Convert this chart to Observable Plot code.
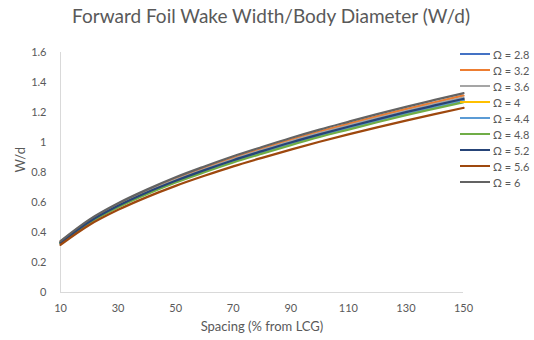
<!DOCTYPE html>
<html>
<head>
<meta charset="utf-8">
<script src="https://cdn.jsdelivr.net/npm/d3@7"></script>
<script src="https://cdn.jsdelivr.net/npm/@observablehq/plot@0.6"></script>
<style>
  body { margin: 0; background: #fff; font-family: Lato, "Open Sans", sans-serif; }
  #wrap { position: relative; width: 534px; height: 340px; overflow: hidden; }
  #title { position: absolute; left: 0; top: 4px; width: 542px; text-align: center; font-size: 19px; color: #595959; }
  #chart { position: absolute; left: 0; top: 30px; }
  #legend { position: absolute; left: 460px; top: 46px; font-size: 11px; color: #595959; }
  .item { height: 16px; display: flex; align-items: center; }
  .sw { width: 30px; height: 2.5px; margin-right: 3px; }
</style>
</head>
<body>
<div id="wrap">
  <div id="title">Forward Foil Wake Width/Body Diameter (W/d)</div>
  <div id="chart"></div>
  <div id="legend"></div>
</div>
<script>
const spacing = [10, 20, 30, 40, 50, 60, 70, 80, 90, 100, 110, 120, 130, 140, 150];
const seriesNames = ["Ω = 2.8", "Ω = 3.2", "Ω = 3.6", "Ω = 4", "Ω = 4.4", "Ω = 4.8", "Ω = 5.2", "Ω = 5.6", "Ω = 6"];
const colors = ["#4472C4", "#ED7D31", "#A5A5A5", "#FFC000", "#5B9BD5", "#70AD47", "#264478", "#9E480E", "#636363"];
const w28 = [0.332, 0.469, 0.575, 0.663, 0.742, 0.812, 0.877, 0.937, 0.995, 1.049, 1.100, 1.149, 1.196, 1.241, 1.285];
const w32 = [0.339, 0.480, 0.587, 0.678, 0.758, 0.830, 0.897, 0.958, 1.017, 1.072, 1.124, 1.174, 1.222, 1.268, 1.313];
const w36 = [0.336, 0.475, 0.582, 0.671, 0.751, 0.822, 0.888, 0.949, 1.007, 1.062, 1.113, 1.162, 1.210, 1.256, 1.300];
const w40 = [0.332, 0.469, 0.575, 0.663, 0.742, 0.812, 0.877, 0.937, 0.995, 1.049, 1.100, 1.149, 1.196, 1.241, 1.285];
const w44 = [0.330, 0.467, 0.572, 0.660, 0.738, 0.808, 0.873, 0.933, 0.990, 1.044, 1.094, 1.143, 1.190, 1.235, 1.278];
const w48 = [0.328, 0.464, 0.568, 0.655, 0.733, 0.802, 0.867, 0.926, 0.983, 1.037, 1.086, 1.135, 1.182, 1.226, 1.269];
const w52 = [0.333, 0.472, 0.578, 0.667, 0.745, 0.816, 0.882, 0.942, 1.000, 1.054, 1.105, 1.154, 1.202, 1.247, 1.291];
const w56 = [0.318, 0.450, 0.551, 0.636, 0.711, 0.778, 0.841, 0.898, 0.953, 1.005, 1.054, 1.101, 1.146, 1.189, 1.231];
const w60 = [0.343, 0.486, 0.595, 0.686, 0.768, 0.840, 0.908, 0.970, 1.030, 1.086, 1.138, 1.189, 1.238, 1.284, 1.329];
const allSeries = [w28, w32, w36, w40, w44, w48, w52, w56, w60];
const xTicks = [10, 30, 50, 70, 90, 110, 130, 150];
const yTicks = [0, 0.2, 0.4, 0.6, 0.8, 1, 1.2, 1.4, 1.6];

const rows = [];
allSeries.forEach((vals, i) => vals.forEach((v, j) => rows.push({s: seriesNames[i], x: spacing[j], y: v})));

const plot = Plot.plot({
  width: 534,
  height: 310,
  marginLeft: 60,
  marginRight: 71,
  marginTop: 22,
  marginBottom: 48,
  style: {fontFamily: "Lato, 'Open Sans', sans-serif", fontSize: "11px", color: "#595959", background: "transparent"},
  x: {domain: [10, 150]},
  y: {domain: [0, 1.6]},
  color: {domain: seriesNames, range: colors},
  marks: [
    Plot.ruleY([0], {stroke: "#d9d9d9", strokeWidth: 1}),
    Plot.ruleX([10], {stroke: "#d9d9d9", strokeWidth: 1}),
    Plot.axisX({ticks: xTicks, tickSize: 0, tickPadding: 12, label: null, tickFormat: d => String(d), fill: "#595959"}),
    Plot.axisY({ticks: yTicks, tickSize: 0, tickPadding: 14, label: null, tickFormat: d => String(d), fill: "#595959"}),
    Plot.text(["Spacing (% from LCG)"], {frameAnchor: "bottom", dy: 38, fill: "#595959", fontSize: 13}),
    Plot.text(["W/d"], {frameAnchor: "left", dx: -40, rotate: -90, fill: "#595959", fontSize: 13}),
    Plot.line(rows, {x: "x", y: "y", z: "s", stroke: "s", strokeWidth: 2.25, curve: "monotone-x"})
  ]
});
document.getElementById("chart").appendChild(plot);

const leg = document.getElementById("legend");
seriesNames.forEach((n, i) => {
  const it = document.createElement("div");
  it.className = "item";
  const sw = document.createElement("div");
  sw.className = "sw";
  sw.style.background = colors[i];
  const t = document.createElement("span");
  t.textContent = n;
  it.appendChild(sw); it.appendChild(t);
  leg.appendChild(it);
});
</script>
</body>
</html>
